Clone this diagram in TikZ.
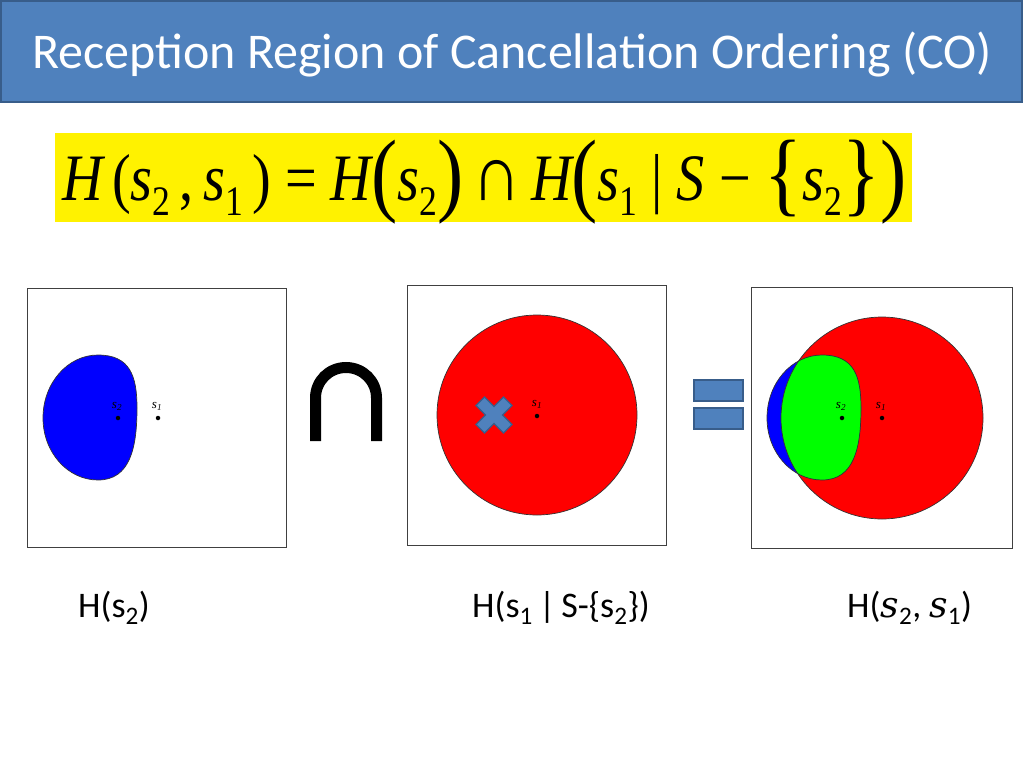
\documentclass[tikz,border=0pt]{standalone}
\usepackage{fontspec}
\setmainfont{Carlito}
\newfontfamily\tnr{Liberation Serif}
\newfontfamily\serifit{DejaVu Serif}
\definecolor{titleblue}{HTML}{4F81BD}
\definecolor{titleedge}{HTML}{385D8A}
\newcommand\lowsub[1]{\raisebox{-14pt}{\tnr\fontsize{38}{38}\selectfont #1}}
\newcommand\bigp[1]{\raisebox{-4pt}{\tnr\fontsize{84}{84}\selectfont #1}}
\newcommand\iv[1]{{\tnr\itshape #1}}
\newcommand\blobshape{(-20,-63) .. controls (12,-63) and (19,-42) .. (19,-10) .. controls (19,30) and (12,62) .. (-20,62) .. controls (-50.4,62) and (-75,34.2) .. (-75,0) .. controls (-75,-34.8) and (-50.4,-63) .. cycle}
\begin{document}
\begin{tikzpicture}[x=1pt,y=-1pt,
  region/.style={draw=black!80,line width=0.7pt},
  frame/.style={draw=black!75,line width=1pt,fill=white},
  dot/.style={circle,fill=black,inner sep=0pt,minimum size=4.5pt},
  ptlabel/.style={font=\tnr\itshape\fontsize{13}{13}\selectfont,inner sep=0pt},
  caption/.style={font=\fontsize{36}{36}\selectfont,anchor=base west,inner sep=0pt},
  eqbar/.style={fill=titleblue,draw=titleedge,line width=1.2pt}]
\useasboundingbox (0,0) rectangle (1024,768);
\fill[white] (0,0) rectangle (1024,768);
% title
\draw[fill=titleblue,draw=titleedge,line width=1.5pt] (1,1) rectangle (1022,102);
\node[text=white,font=\fontsize{50}{50}\selectfont,inner sep=0pt] (title) at (512,55) {Reception Region of Cancellation Ordering (CO)};
% formula
\fill[yellow] (55,133) rectangle (912,222);
\node[anchor=base west,inner sep=0pt] (formula) at (62,200)
 {\resizebox{844pt}{!}{\scalebox{1}[1.18]{\tnr\fontsize{60}{60}\selectfont\iv{H}\,(\iv{s}\lowsub{2}\,,\,\iv{s}\lowsub{1}\,) = \iv{H}\bigp{(}\iv{s}\lowsub{2}\bigp{)}\,{\fontsize{72}{72}\selectfont ∩}\,\iv{H}\bigp{(}\iv{s}\lowsub{1} | \iv{S} − \bigp{\{}\iv{s}\lowsub{2}\bigp{\}}\bigp{)}}}};
% box 1
\draw[frame] (27,288) rectangle (286,547);
\begin{scope}[shift={(118,418)}]
  \filldraw[region,fill=blue] \blobshape;
\end{scope}
\node[dot] (a2) at (118,418) {};
\node[dot] (a1) at (158,418) {};
\node[ptlabel] (la2) at (117,406) {s\textsubscript{2}};
\node[ptlabel] (la1) at (157,406) {s\textsubscript{1}};
% intersection symbol
\draw[line width=11pt] (315.5,441) -- (315.5,398) .. controls (315.5,381) and (329,367.5) .. (346,367.5) .. controls (363,367.5) and (376.5,381) .. (376.5,398) -- (376.5,441);
% box 2
\draw[frame] (407,285) rectangle (666,545);
\filldraw[region,fill=red] (537,415) circle[radius=100pt];
\node[dot] (b1) at (537,416) {};
\node[ptlabel] (lb1) at (537,404) {s\textsubscript{1}};
\begin{scope}[shift={(494,415)},rotate=45]
  \filldraw[fill=titleblue,draw=titleedge,line width=1.2pt]
    (-6,-19.5) -- (6,-19.5) -- (6,-6) -- (19.5,-6) -- (19.5,6) -- (6,6) -- (6,19.5) -- (-6,19.5) -- (-6,6) -- (-19.5,6) -- (-19.5,-6) -- (-6,-6) -- cycle;
\end{scope}
% equals
\draw[eqbar] (694,380) rectangle (743,401);
\draw[eqbar] (694,408) rectangle (743,429);
% box 3
\draw[frame] (751,287) rectangle (1012,548);
\fill[red] (882,418) circle[radius=101pt];
\begin{scope}[shift={(842,418)}]
  \fill[blue] \blobshape;
\end{scope}
\begin{scope}
  \clip (882,418) circle[radius=101pt];
  \begin{scope}[shift={(842,418)}]
    \fill[green] \blobshape;
  \end{scope}
\end{scope}
\draw[region] (882,418) circle[radius=101pt];
\begin{scope}[shift={(842,418)}]
  \draw[region] \blobshape;
\end{scope}
\node[dot] (c2) at (842,418) {};
\node[dot] (c1) at (882,418) {};
\node[ptlabel] (lc2) at (841,406) {s\textsubscript{2}};
\node[ptlabel] (lc1) at (881,406) {s\textsubscript{1}};
% captions
\node[caption] (cap1) at (78,617) {H(s\textsubscript{2})};
\node[caption] (cap2) at (472,617) {H(s\textsubscript{1}\,|\,S-\{s\textsubscript{2}\})};
\node[caption] (cap3) at (847,617) {H({\serifit\itshape s}\textsubscript{2}, {\serifit\itshape s}\textsubscript{1})};
\end{tikzpicture}
\end{document}
